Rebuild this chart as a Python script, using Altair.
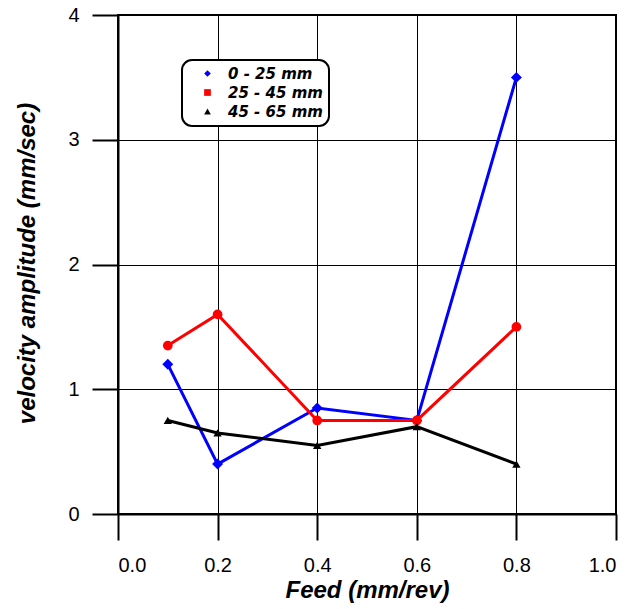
import altair as alt
import pandas as pd

feed = [0.1, 0.2, 0.4, 0.6, 0.8]
s_0_25 = [1.2, 0.4, 0.85, 0.75, 3.5]
s_25_45 = [1.35, 1.6, 0.75, 0.75, 1.5]
s_45_65 = [0.75, 0.65, 0.55, 0.7, 0.4]
series_names = ["0 - 25 mm", "25 - 45 mm", "45 - 65 mm"]
series_colors = ["#0000FF", "#FF0000", "#000000"]
point_shapes = ["diamond", "circle", "triangle-up"]
point_sizes = [120, 70, 80]
legend_shapes = ["diamond", "square", "triangle-up"]
x_ticks = [0.0, 0.2, 0.4, 0.6, 0.8, 1.0]
y_ticks = [0, 1, 2, 3, 4]

rows = []
for name, vals in zip(series_names, [s_0_25, s_25_45, s_45_65]):
    for f, v in zip(feed, vals):
        rows.append({"feed": f, "amp": v, "series": name})
df = pd.DataFrame(rows)

FONT = "Liberation Sans"

x_enc = alt.X(
    "feed:Q",
    scale=alt.Scale(domain=[0, 1], nice=False),
    axis=alt.Axis(
        values=x_ticks, format=".1f", title="Feed (mm/rev)", labelPadding=15,
        titleX=249, titleY=76, titleBaseline="middle", titleAlign="center",
    ),
)
y_enc = alt.Y(
    "amp:Q",
    scale=alt.Scale(domain=[0, 4], nice=False),
    axis=alt.Axis(
        values=y_ticks, format="d", title="velocity amplitude (mm/sec)", labelPadding=13,
        titleX=-91, titleY=248, titleBaseline="middle", titleAlign="center", titleAngle=-90,
    ),
)

color_scale = alt.Scale(domain=series_names, range=series_colors)

lines = alt.Chart(df).mark_line(strokeWidth=3).encode(
    x=x_enc, y=y_enc,
    color=alt.Color("series:N", scale=color_scale, legend=None),
    detail="series:N",
)

points = alt.Chart(df).mark_point(filled=True, opacity=1).encode(
    x=x_enc, y=y_enc,
    color=alt.Color("series:N", scale=color_scale, legend=None),
    shape=alt.Shape("series:N", scale=alt.Scale(domain=series_names, range=point_shapes), legend=None),
    size=alt.Size("series:N", scale=alt.Scale(domain=series_names, range=point_sizes), legend=None),
)

legend_props = dict(
    title=None, orient="none", legendX=64, legendY=45,
    strokeColor="black", cornerRadius=10, padding=6,
    fillColor="white", symbolOffset=12, symbolOpacity=1,
    symbolSize=45, symbolStrokeWidth=0,
    labelFont="DejaVu Sans", labelFontSize=15, labelFontWeight="bold",
    labelFontStyle="italic", labelColor="black", labelOffset=13,
    rowPadding=3, labelLimit=300,
)

legend_layer = alt.Chart(df).mark_point(filled=True, size=45, opacity=0).encode(
    x=x_enc, y=y_enc,
    color=alt.Color("series:N", scale=color_scale, legend=alt.Legend(**legend_props)),
    shape=alt.Shape(
        "series:N",
        scale=alt.Scale(domain=series_names, range=legend_shapes),
        legend=alt.Legend(**legend_props),
    ),
)

chart = (
    alt.layer(legend_layer, lines, points)
    .resolve_scale(color="independent", shape="independent", size="independent")
    .properties(
        width=498, height=499,
        autosize=alt.AutoSizeParams(type="none"),
        padding={"left": 118, "top": 15, "right": 19, "bottom": 95},
        background="white",
    )
    .configure_view(stroke="black", strokeWidth=2)
    .configure_axis(
        grid=True, gridColor="black", gridWidth=1, gridOpacity=1,
        domainColor="black", domainWidth=2,
        tickColor="black", tickWidth=2, tickSize=26,
        labelFont=FONT, labelFontSize=20, labelColor="black",
        titleFont=FONT, titleFontSize=24, titleFontWeight="bold",
        titleFontStyle="italic", titleColor="black",
    )
    .configure_legend(strokeWidth=2)
)

chart.save("out.html", embed_options={"renderer": "svg", "actions": False})
